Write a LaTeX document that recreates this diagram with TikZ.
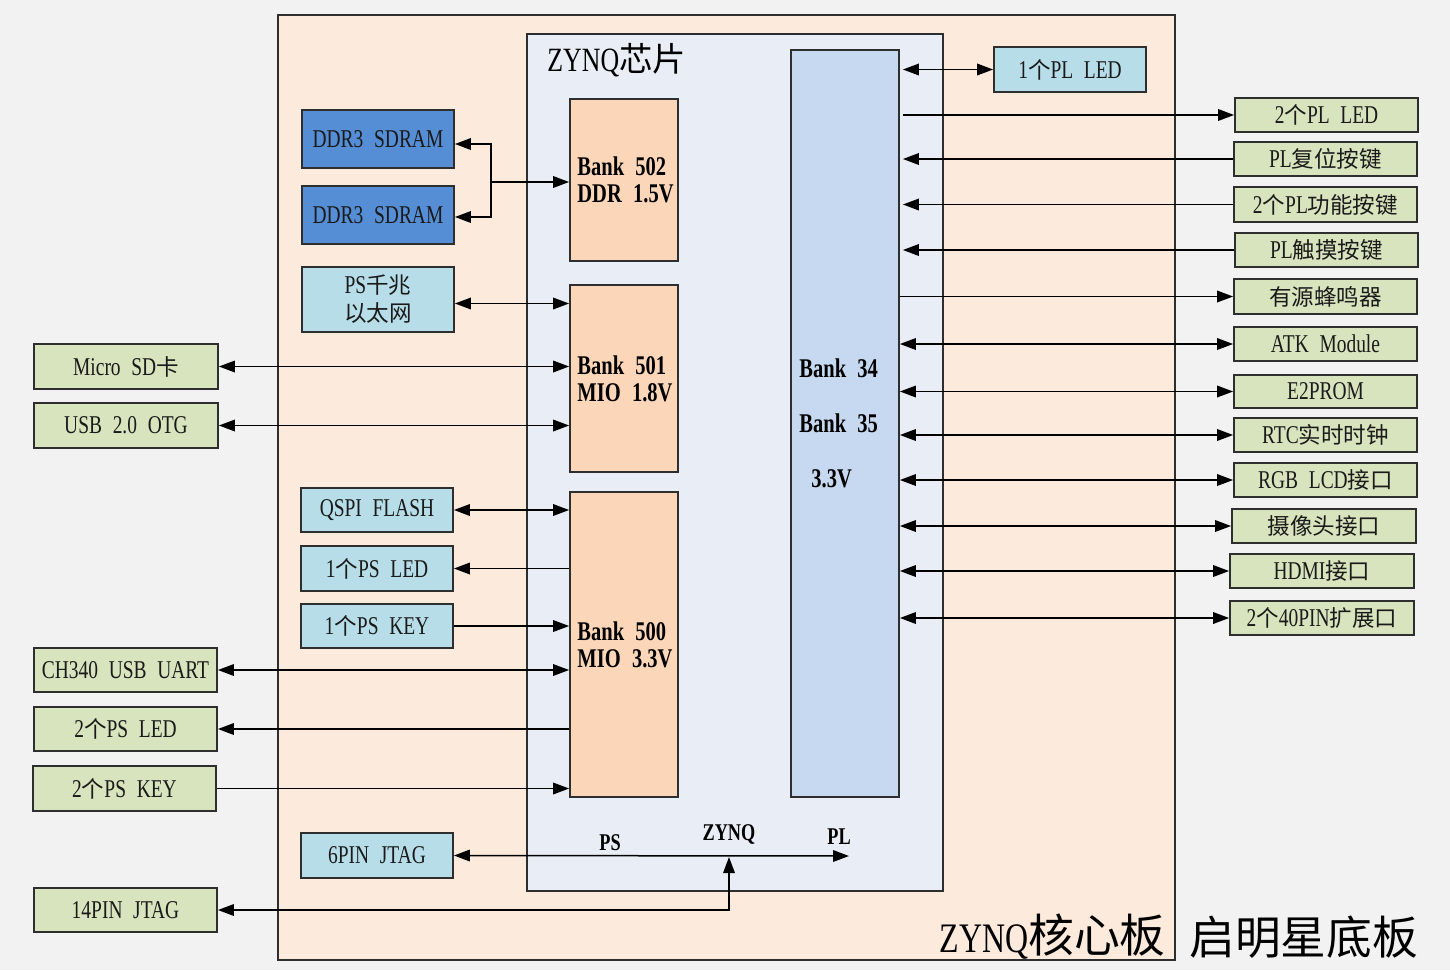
\documentclass[tikz,border=0pt]{standalone}
\usepackage{fontspec}
\setmainfont{Liberation Serif}[FakeStretch=0.76,WordSpace=2.2]
\newfontfamily\zhf{Noto Sans CJK SC}[Scale=0.88]
\newcommand\zh[1]{{\zhf #1}}
\newcommand\lf{\fontsize{12.8}{15}\selectfont}
\usetikzlibrary{arrows.meta}
\definecolor{bgc}{HTML}{F2F2F2}
\definecolor{corec}{HTML}{FCEADC}
\definecolor{chipc}{HTML}{E9EEF6}
\definecolor{bankc}{HTML}{FBD6B8}
\definecolor{plc}{HTML}{C6D9F0}
\definecolor{dblue}{HTML}{558ED5}
\definecolor{lblue}{HTML}{B7DEE8}
\definecolor{grn}{HTML}{D7E4BD}
\definecolor{edge}{HTML}{2E2E2E}
\definecolor{txt}{HTML}{1A1A1A}
% box from corner (x1,y1) to (x2,y2) in pixel units
\newcommand\bx[7]{%
  \pgfmathsetmacro\bxcx{(#3+#5)/2}%
  \pgfmathsetmacro\bxcy{(#4+#6)/2}%
  \pgfmathsetmacro\bxw{(#5-#3)*0.5}%
  \pgfmathsetmacro\bxh{(#6-#4)*0.5}%
  \node[#1, minimum width=\bxw pt, minimum height=\bxh pt] (#2) at (\bxcx,\bxcy) {#7};}
\tikzset{
  box/.style={inner sep=0pt, draw=edge, line width=0.9pt, text=txt, font=\lf, align=center},
  plain/.style={inner sep=0pt, draw=edge, line width=0.8pt},
  gbox/.style={box, fill=grn},
  lbbox/.style={box, fill=lblue},
  dbbox/.style={box, fill=dblue},
  bankbox/.style={box, fill=bankc},
  plbox/.style={box, fill=plc},
  banktxt/.style={inner sep=0pt, anchor=west, text=black, font=\fontsize{13.5}{13.5}\bfseries\selectfont, align=left},
  jlbl/.style={inner sep=0pt, text=black, font=\fontsize{12}{12}\bfseries\selectfont},
  conn/.style={line width=0.75pt, draw=black},
  bi/.style={conn, {Triangle[length=8pt,width=5.8pt]}-{Triangle[length=8pt,width=5.8pt]}},
  fw/.style={conn, -{Triangle[length=8pt,width=5.8pt]}},
  bw/.style={conn, {Triangle[length=8pt,width=5.8pt]}-},
}
\begin{document}
\begin{tikzpicture}[x=0.5pt,y=-0.5pt]
\fill[bgc] (0,0) rectangle (1450,970);
\useasboundingbox (0,0) rectangle (1450,970);
% core board and chip
\bx{plain, fill=corec}{core}{278}{15}{1175}{960}{}
\bx{plain, fill=chipc}{chip}{527}{34}{943}{891}{}
\node[anchor=west, inner sep=0pt, text=black] (chiptitle) at (547,60) {\fontsize{17}{20}\selectfont ZYNQ\zhf\fontsize{19}{20}\selectfont 芯片};
% banks
\bx{bankbox}{b502}{570}{99}{678}{261}{}
\bx{bankbox}{b501}{570}{285}{678}{472}{}
\bx{bankbox}{b500}{570}{492}{678}{797}{}
\bx{plbox}{b34}{791}{50}{899}{797}{}
\node[banktxt] (t502) at (577,179.5) {Bank 502\\DDR 1.5V};
\node[banktxt] (t501) at (577,379) {Bank 501\\MIO 1.8V};
\node[banktxt] (t500) at (577,644.5) {Bank 500\\MIO 3.3V};
\node[banktxt] (t34) at (799,368) {Bank 34};
\node[banktxt] (t35) at (799,423) {Bank 35};
\node[banktxt] (t33) at (811,479) {3.3V};
% inner left boxes
\bx{dbbox}{ddr1}{302}{110}{454}{168}{DDR3 SDRAM}
\bx{dbbox}{ddr2}{302}{186}{454}{244}{DDR3 SDRAM}
\bx{lbbox}{eth}{302}{267}{454}{332}{PS\zh{千兆}\\[-1pt]\zh{以太网}}
\bx{lbbox}{qspi}{301}{488}{453}{532}{QSPI FLASH}
\bx{lbbox}{psled1}{301}{546}{453}{591}{1\zh{个}PS LED}
\bx{lbbox}{pskey1}{301}{604}{453}{648}{1\zh{个}PS KEY}
\bx{lbbox}{jtag6}{301}{833}{453}{878}{6PIN JTAG}
% outer left boxes
\bx{gbox}{sd}{34}{344}{218}{389}{Micro SD\zh{卡}}
\bx{gbox}{usb}{34}{403}{218}{448}{USB 2.0 OTG}
\bx{gbox}{uart}{34}{648}{217}{692}{CH340 USB UART}
\bx{gbox}{psled2}{34}{707}{217}{751}{2\zh{个}PS LED}
\bx{gbox}{pskey2}{33}{766}{216}{811}{2\zh{个}PS KEY}
\bx{gbox}{jtag14}{34}{888}{217}{932}{14PIN JTAG}
% right boxes
\bx{lbbox}{plled1}{994}{47}{1146}{92}{1\zh{个}PL LED}
\bx{gbox}{plled2}{1235}{98}{1418}{132}{2\zh{个}PL LED}
\bx{gbox}{plrst}{1234}{142}{1417}{176}{PL\zh{复位按键}}
\bx{gbox}{plfn}{1234}{187}{1417}{222}{2\zh{个}PL\zh{功能按键}}
\bx{gbox}{pltouch}{1235}{233}{1418}{267}{PL\zh{触摸按键}}
\bx{gbox}{buzz}{1234}{279}{1417}{314}{\zh{有源蜂鸣器}}
\bx{gbox}{atk}{1234}{327}{1417}{361}{ATK Module}
\bx{gbox}{eeprom}{1234}{375}{1417}{408}{E2PROM}
\bx{gbox}{rtc}{1234}{418}{1417}{452}{RTC\zh{实时时钟}}
\bx{gbox}{lcd}{1234}{463}{1417}{497}{RGB LCD\zh{接口}}
\bx{gbox}{cam}{1232}{509}{1416}{543}{\zh{摄像头接口}}
\bx{gbox}{hdmi}{1230}{554}{1414}{588}{HDMI\zh{接口}}
\bx{gbox}{exp}{1230}{601}{1414}{635}{2\zh{个}40PIN\zh{扩展口}}
% DDR connections
\coordinate (dj) at (491,182);
\coordinate (ddr1p) at ([yshift=-2.5pt]ddr1.east);
\coordinate (ddr2p) at ([yshift=-1pt]ddr2.east);
\coordinate (ethp) at ([yshift=-2pt]eth.east);
\draw[fw] (dj) -- (b502.west |- dj);
\draw[fw] (dj) |- (ddr1p);
\draw[fw] (dj) |- (ddr2p);
% left connections
\draw[bi] (ethp) -- (b501.west |- ethp);
\draw[bi] (sd.east) -- (b501.west |- sd.east);
\draw[bi] (usb.east) -- (b501.west |- usb.east);
\draw[bi] (qspi.east) -- (b500.west |- qspi.east);
\draw[bw] (psled1.east) -- (b500.west |- psled1.east);
\draw[fw] (pskey1.east) -- (b500.west |- pskey1.east);
\draw[bi] (uart.east) -- (b500.west |- uart.east);
\draw[bw] (psled2.east) -- (b500.west |- psled2.east);
\draw[fw] (pskey2.east) -- (b500.west |- pskey2.east);
% right connections
\coordinate (re) at ([xshift=1.5pt]b34.east);
\draw[bi] (re |- plled1.west) -- (plled1.west);
\draw[fw] (re |- plled2.west) -- (plled2.west);
\draw[bw] (re |- plrst.west) -- (plrst.west);
\draw[bw] (re |- plfn.west) -- (plfn.west);
\draw[bw] (re |- pltouch.west) -- (pltouch.west);
\draw[fw] (b34.east |- buzz.west) -- (buzz.west);
\draw[bi] (b34.east |- atk.west) -- (atk.west);
\draw[bi] (b34.east |- eeprom.west) -- (eeprom.west);
\draw[bi] (b34.east |- rtc.west) -- (rtc.west);
\draw[bi] (b34.east |- lcd.west) -- (lcd.west);
\draw[bi] (b34.east |- cam.west) -- (cam.west);
\draw[bi] (b34.east |- hdmi.west) -- (hdmi.west);
\draw[bi] (b34.east |- exp.west) -- (exp.west);
% JTAG
\coordinate (jend) at (849,856);
\coordinate (jmid) at (729,857);
\draw[bi] (jtag6.east) -- (jend);
\draw[bi] (jtag14.east) -| (jmid);
\node[jlbl] (lps) at (610,843) {PS};
\node[jlbl] (lzynq) at (729,834) {ZYNQ};
\node[jlbl] (lpl) at (839,837) {PL};
% bottom titles
\node[anchor=east, inner sep=0pt, text=black] (tcore) at (1166,937) {\fontsize{21}{24}\selectfont ZYNQ\zhf\fontsize{26}{28}\selectfont 核心板};
\node[anchor=west, inner sep=0pt, text=black] (tbase) at (1189,937) {\zhf\fontsize{26}{28}\selectfont 启明星底板};
\end{tikzpicture}
\end{document}
